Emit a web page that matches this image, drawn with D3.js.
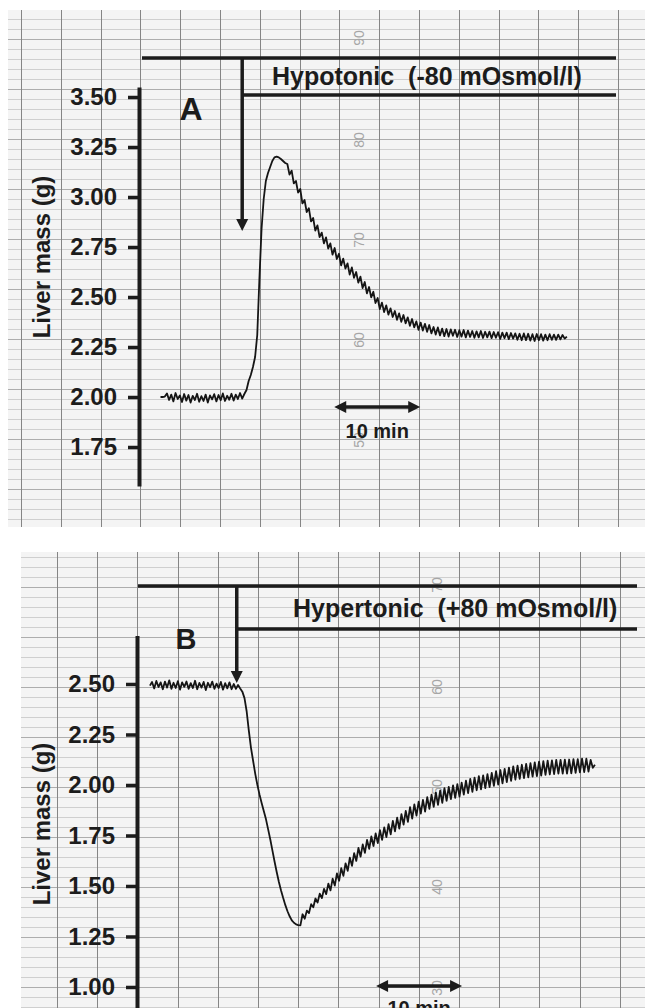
<!DOCTYPE html>
<html>
<head>
<meta charset="utf-8">
<title>Liver mass recordings</title>
<script src="https://d3js.org/d3.v7.min.js"></script>
<style>
  body { margin: 0; background: #fff; }
  svg { display: block; font-family: "Liberation Sans", Arial, sans-serif; }
  .paper { fill: #f4f4f4; }
  .vgrid line { stroke: #858585; stroke-width: 1; }
  .hgrid line { stroke: #cfcfcf; stroke-width: 1; }
  .hgrid line.major { stroke: #adadad; }
  .papernum { fill: #a6a6a6; font-size: 14px; }
  .axis path { stroke: #1c1c1c; stroke-width: 4; }
  .axis line { stroke: #1c1c1c; stroke-width: 3.5; }
  .axis text { font-size: 24px; font-weight: bold; fill: #1c1c1c; }
  .ylabel { font-size: 24px; font-weight: bold; fill: #1c1c1c; }
  .panel-letter { font-weight: bold; fill: #1c1c1c; }
  .bar { stroke: #1c1c1c; stroke-width: 3.5; fill: none; }
  .head { fill: #1c1c1c; }
  .treat { font-size: 25px; font-weight: bold; fill: #1c1c1c; }
  .scalelabel { font-size: 20px; font-weight: bold; fill: #1c1c1c; }
  .trace { fill: none; stroke: #151515; stroke-width: 1.8; stroke-linejoin: round; }
</style>
</head>
<body>
<script>
// recordings, one reading every 0.25 min (time in min, mass in g)
var stepMin = 0.25;

var startA = 2.5;
var massA = [
  // baseline
  2.000, 2.000, 2.002, 2.018, 1.985, 2.012, 1.978, 2.020, 1.990, 2.008,
  1.975, 2.015, 1.982, 2.010, 1.972, 2.006, 1.985, 2.016, 1.976, 2.004,
  1.980, 2.012, 1.972, 2.008, 1.988, 2.014, 1.978, 2.010, 1.984, 2.018,
  1.980, 2.006, 1.986, 2.016, 1.982, 2.012, 1.990, 2.020, 1.992, 2.015,
  // swelling
  2.035, 2.080, 2.110, 2.150, 2.200, 2.310, 2.590, 2.840, 2.990, 3.080,
  3.120, 3.150, 3.180, 3.198, 3.202, 3.198, 3.190, 3.180, 3.170,
  // volume recovery
  3.165, 3.112, 3.132, 3.068, 3.080, 3.022, 3.040, 2.968, 2.985, 2.925,
  2.944, 2.878, 2.895, 2.832, 2.858, 2.800, 2.822, 2.768, 2.798, 2.742,
  2.768, 2.712, 2.745, 2.690, 2.716, 2.658, 2.692, 2.642, 2.668, 2.612,
  2.648, 2.596, 2.625, 2.572, 2.602, 2.545, 2.575, 2.518, 2.550, 2.498,
  2.526, 2.470, 2.495, 2.440, 2.472, 2.425, 2.458, 2.412, 2.443, 2.400,
  2.430, 2.386, 2.418, 2.376, 2.410, 2.368, 2.398, 2.356, 2.390, 2.348,
  2.378, 2.336, 2.372, 2.332, 2.366, 2.326, 2.360, 2.318, 2.350, 2.312,
  2.348, 2.308, 2.342, 2.304, 2.340, 2.302, 2.338, 2.306, 2.336, 2.300,
  2.334, 2.302, 2.335, 2.298, 2.332, 2.300, 2.330, 2.296, 2.328, 2.298,
  2.330, 2.295, 2.326, 2.298, 2.327, 2.294, 2.325, 2.296, 2.324, 2.290,
  2.322, 2.294, 2.322, 2.289, 2.320, 2.292, 2.318, 2.286, 2.316, 2.284,
  2.318, 2.284, 2.316, 2.282, 2.314, 2.280, 2.315, 2.284, 2.314, 2.282,
  2.312, 2.284, 2.314, 2.286, 2.312, 2.286, 2.312, 2.288, 2.310, 2.292,
  2.302
];

var startB = 1.5;
var massB = [
  // baseline
  2.492, 2.510, 2.478, 2.515, 2.485, 2.508, 2.474, 2.512, 2.482, 2.518,
  2.476, 2.506, 2.480, 2.514, 2.472, 2.508, 2.486, 2.512, 2.476, 2.504,
  2.480, 2.516, 2.474, 2.505, 2.482, 2.510, 2.470, 2.506, 2.484, 2.512,
  2.476, 2.502, 2.480, 2.510, 2.472, 2.504, 2.478, 2.508, 2.474, 2.500,
  2.476, 2.495,
  // shrinkage
  2.478, 2.462, 2.430, 2.365, 2.270, 2.185, 2.120, 2.055, 2.000, 1.952,
  1.910, 1.870, 1.830, 1.780, 1.730, 1.675, 1.620, 1.568, 1.520, 1.478,
  1.440, 1.405, 1.375, 1.350, 1.330, 1.318, 1.310, 1.306, 1.305,
  // volume recovery
  1.360, 1.338, 1.378, 1.366, 1.410, 1.395, 1.438, 1.418, 1.462, 1.440,
  1.486, 1.460, 1.512, 1.478, 1.536, 1.502, 1.562, 1.526, 1.588, 1.550,
  1.612, 1.575, 1.640, 1.600, 1.662, 1.624, 1.688, 1.645, 1.706, 1.664,
  1.728, 1.684, 1.745, 1.698, 1.760, 1.712, 1.776, 1.728, 1.790, 1.742,
  1.806, 1.756, 1.822, 1.770, 1.838, 1.784, 1.856, 1.804, 1.872, 1.818,
  1.890, 1.834, 1.904, 1.848, 1.918, 1.858, 1.926, 1.868, 1.940, 1.882,
  1.952, 1.892, 1.962, 1.902, 1.972, 1.912, 1.984, 1.922, 1.990, 1.930,
  1.998, 1.936, 2.004, 1.942, 2.012, 1.952, 2.022, 1.960, 2.030, 1.966,
  2.036, 1.974, 2.044, 1.978, 2.048, 1.984, 2.054, 1.990, 2.060, 1.996,
  2.068, 2.002, 2.074, 2.008, 2.080, 2.014, 2.086, 2.020, 2.092, 2.026,
  2.096, 2.030, 2.100, 2.034, 2.104, 2.038, 2.108, 2.042, 2.112, 2.044,
  2.116, 2.046, 2.118, 2.050, 2.120, 2.052, 2.122, 2.054, 2.124, 2.056,
  2.124, 2.056, 2.125, 2.056, 2.126, 2.058, 2.128, 2.060, 2.128, 2.062,
  2.130, 2.064, 2.130, 2.066, 2.124, 2.085, 2.100
];

var ticksA = [1.75, 2.00, 2.25, 2.50, 2.75, 3.00, 3.25, 3.50];
var ticksB = [1.00, 1.25, 1.50, 1.75, 2.00, 2.25, 2.50];

// time of solution change (arrow) and the 10 min scale bar, in min
var switchA = 12.0, switchB = 11.6;
var barA = [22.7, 32.7], barB = [27.8, 37.8];

var treatA = "Hypotonic  (-80 mOsmol/l)";
var treatB = "Hypertonic  (+80 mOsmol/l)";
var paperNumsA = ["90", "80", "70", "60", "50"];
var paperNumsB = ["70", "60", "50", "40", "30"];

var width = 645, height = 1008;

var svg = d3.select("body").append("svg")
  .attr("width", width)
  .attr("height", height);

function drawPanel(p) {
  var g = svg.append("g");

  // chart paper
  g.append("rect").attr("class", "paper")
    .attr("x", p.paper[0]).attr("y", p.paper[1])
    .attr("width", p.paper[2] - p.paper[0]).attr("height", p.paper[3] - p.paper[1]);

  var hs = d3.range(p.hFirst, p.paper[3], 10);
  g.append("g").attr("class", "hgrid").selectAll("line")
    .data(hs).enter().append("line")
    .attr("class", function(d) { return ((d - p.hMajor) % 50 === 0) ? "major" : null; })
    .attr("x1", p.paper[0]).attr("x2", p.paper[2])
    .attr("y1", function(d) { return d + 0.5; }).attr("y2", function(d) { return d + 0.5; });

  var vs = d3.range(p.vFirst, p.paper[2], p.vStep);
  g.append("g").attr("class", "vgrid").selectAll("line")
    .data(vs).enter().append("line")
    .attr("x1", function(d) { return Math.round(d) + 0.5; })
    .attr("x2", function(d) { return Math.round(d) + 0.5; })
    .attr("y1", p.paper[1]).attr("y2", p.paper[3]);

  g.selectAll(".papernum").data(p.nums).enter().append("text")
    .attr("class", "papernum")
    .attr("text-anchor", "middle")
    .attr("transform", function(d, i) {
      return "translate(" + p.numX + "," + p.numY[i] + ") rotate(-90)";
    })
    .attr("dy", "0.35em")
    .text(function(d) { return d; });

  var x = d3.scaleLinear().domain([0, 60]).range([p.axisX, p.axisX + 60 * 8.6]);
  var y = d3.scaleLinear().domain(p.yDomain).range(p.yRange);

  // axis
  g.append("g").attr("class", "axis")
    .attr("transform", "translate(" + p.axisX + ",0)")
    .call(d3.axisLeft(y).tickValues(p.ticks).tickFormat(d3.format(".2f"))
      .tickSize(11).tickSizeOuter(0).tickPadding(11))
    .call(function(a) { a.attr("font-family", null).attr("font-size", null); });

  g.append("text").attr("class", "ylabel")
    .attr("text-anchor", "middle")
    .attr("transform", "translate(50," + p.labelY + ") rotate(-90)")
    .text("Liver mass (g)");

  g.append("text").attr("class", "panel-letter")
    .attr("x", p.letterPos[0]).attr("y", p.letterPos[1])
    .attr("text-anchor", "middle")
    .style("font-size", p.letterSize + "px")
    .text(p.letter);

  // solution bars and arrow
  var xs = x(p.switchT);
  g.append("line").attr("class", "bar")
    .attr("x1", p.barLeft).attr("x2", p.barRight)
    .attr("y1", p.barY[0]).attr("y2", p.barY[0]);
  g.append("line").attr("class", "bar")
    .attr("x1", xs).attr("x2", p.barRight)
    .attr("y1", p.barY[1]).attr("y2", p.barY[1]);
  g.append("line").attr("class", "bar")
    .attr("x1", xs).attr("x2", xs)
    .attr("y1", p.barY[0]).attr("y2", p.arrowTip - 9);
  g.append("path").attr("class", "head")
    .attr("d", "M" + (xs - 6) + "," + (p.arrowTip - 12) + "L" + (xs + 6) + "," + (p.arrowTip - 12) +
      "L" + xs + "," + p.arrowTip + "Z");
  g.append("text").attr("class", "treat")
    .attr("x", p.treatX).attr("y", p.treatY)
    .attr("xml:space", "preserve")
    .style("white-space", "pre")
    .text(p.treat);

  // 10 min scale bar
  var b0 = x(p.scaleBar[0]), b1 = x(p.scaleBar[1]), by = p.scaleY;
  g.append("line").attr("class", "bar")
    .attr("x1", b0 + 8).attr("x2", b1 - 8).attr("y1", by).attr("y2", by);
  g.append("path").attr("class", "head")
    .attr("d", "M" + b0 + "," + by + "L" + (b0 + 12) + "," + (by - 6) + "L" + (b0 + 12) + "," + (by + 6) + "Z" +
      "M" + b1 + "," + by + "L" + (b1 - 12) + "," + (by - 6) + "L" + (b1 - 12) + "," + (by + 6) + "Z");
  g.append("text").attr("class", "scalelabel")
    .attr("x", (b0 + b1) / 2).attr("y", by + p.scaleTextDy)
    .attr("text-anchor", "middle")
    .text("10 min");

  // trace
  var line = d3.line()
    .x(function(d, i) { return x(p.start + i * stepMin); })
    .y(function(d) { return y(d); });
  g.append("path").attr("class", "trace").attr("d", line(p.mass));
}

drawPanel({
  paper: [8, 10, 645, 527], hFirst: 19, hMajor: 39, vFirst: 21, vStep: 39.8,
  nums: paperNumsA, numX: 359, numY: [38, 140, 240, 340, 440],
  axisX: 139, yDomain: [1.555, 3.55], yRange: [486, 87], ticks: ticksA,
  labelY: 257, letter: "A", letterPos: [191, 120], letterSize: 32,
  switchT: switchA, barLeft: 142, barRight: 616, barY: [58, 95], arrowTip: 231,
  treat: treatA, treatX: 272, treatY: 85,
  scaleBar: barA, scaleY: 407, scaleTextDy: 31,
  start: startA, mass: massA
});

drawPanel({
  paper: [21, 552, 645, 1008], hFirst: 557, hMajor: 587, vFirst: 57, vStep: 40.2,
  nums: paperNumsB, numX: 437, numY: [585, 687, 787, 887, 988],
  axisX: 137, yDomain: [0.89, 2.74], yRange: [1009.2, 635.5], ticks: ticksB,
  labelY: 824, letter: "B", letterPos: [186, 649], letterSize: 29,
  switchT: switchB, barLeft: 138, barRight: 637, barY: [586, 629], arrowTip: 683,
  treat: treatB, treatX: 293, treatY: 617,
  scaleBar: barB, scaleY: 986, scaleTextDy: 29,
  start: startB, mass: massB
});
</script>
</body>
</html>
